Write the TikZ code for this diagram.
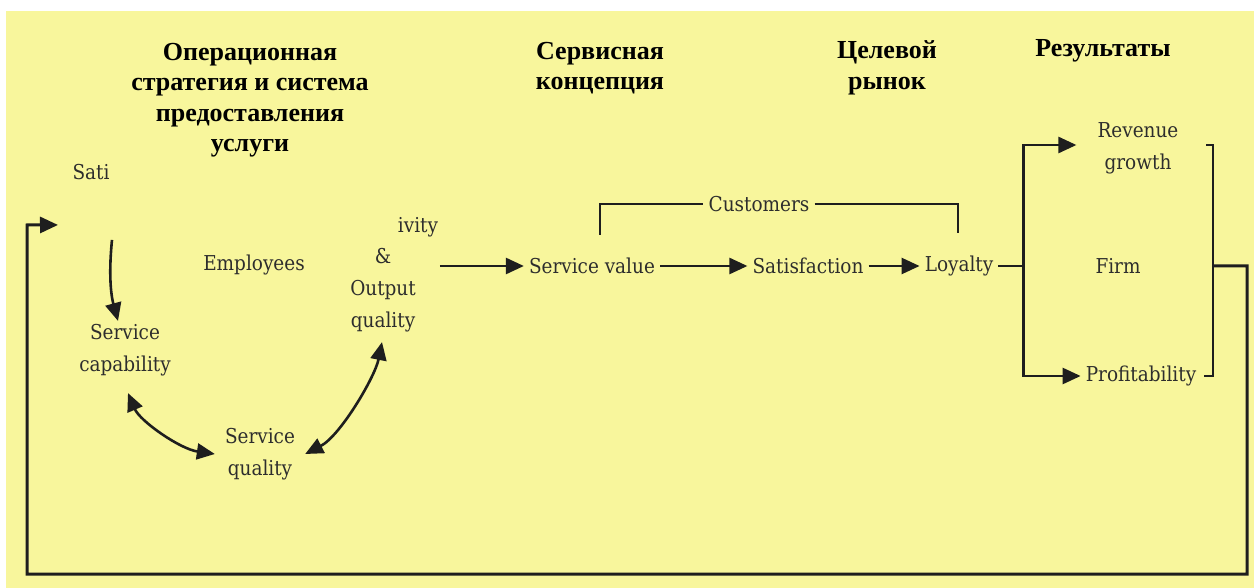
\documentclass[tikz,border=0pt]{standalone}
\usepackage{fontspec}
\setmainfont{DejaVu Serif Condensed}
\newfontfamily\headfont{Liberation Serif}
\usetikzlibrary{arrows.meta,calc}
\definecolor{paper}{RGB}{248,246,156}
\definecolor{ink}{RGB}{30,30,30}
\definecolor{txt}{RGB}{45,45,45}
\begin{document}
\begin{tikzpicture}[x=1pt,y=-1pt,
  lbl/.style={font=\fontsize{20.5}{32}\selectfont, text=txt, align=center, inner sep=5pt},
  head/.style={font=\headfont\bfseries\fontsize{26}{30.5}\selectfont, align=center, inner sep=0pt},
  head tip/.tip={Triangle[length=18pt,width=16pt]},
  tip/.style={-{head tip}},
  arr/.style={draw=ink, line width=2.6pt, tip},
  dbl/.style={draw=ink, line width=2.6pt, {head tip}-{head tip}},
  link/.style={draw=ink, line width=2.6pt},
  brk/.style={draw=ink, line width=2.2pt},
  loopline/.style={draw=ink, line width=3pt}
]
% page and panel
\useasboundingbox (0,0) rectangle (1254,588);
\fill[white] (0,0) rectangle (1254,588);
\fill[paper] (6,11) rectangle (1254,588);

% column headings
\node[head] (hops) at (250,100) {Операционная\\стратегия и система\\предоставления\\услуги};
\node[head] (hsvc) at (600,68) {Сервисная\\концепция};
\node[head] (hmkt) at (887,68) {Целевой\\рынок};
\node[head] (hres) at (1103,51) {Результаты};

% internal service loop
\node[lbl] (sati) at (91,172) {Sati};
\node[lbl] (emp) at (254,265) {Employees};
\node[lbl] (svccap) at (125,350) {Service\\capability};
\node[lbl] (svcq) at (260,454) {Service\\quality};
\node[lbl] (ivity) at (418,227) {ivity};
\node[lbl] (outq) at (383,290) {\&\\Output\\quality};

% customer chain
\node[lbl] (sv) at (592,266) {Service value};
\node[lbl] (sat) at (808,266) {Satisfaction};
\node[lbl] (loy) at (959,266) {Loyalty};
\node[lbl] (cust) at (759,204) {Customers};

% firm results
\node[lbl] (rev) at (1138,148) {Revenue\\growth};
\node[lbl] (firm) at (1118,266) {Firm};
\node[lbl] (prof) at (1141,376) {Profitability};

% arrows inside the loop
\draw[arr] ($(sati.south)+(21,55)$) .. controls ($(sati.south)+(17,95)$) and ($(svccap.north)+(-13,-20)$) .. ($(svccap.north)+(-7,2)$);
\draw[dbl] ($(svccap.south)+(3,12)$) .. controls ($(svccap.south)+(15,40)$) and ($(svcq.west)+(-40,-5)$) .. ($(svcq.west)+(-5,0)$);
\draw[dbl] ($(svcq.east)+(5,0)$) .. controls ($(svcq.east)+(40,-18)$) and ($(outq.south)+(-8,40)$) .. ($(outq.south)+(-1,5)$);

% chain arrows
\draw[arr] ($(outq.east |- sv.west)+(19,0)$) -- (sv.west);
\draw[arr] (sv) -- (sat);
\draw[arr] (sat) -- (loy);

% customers bracket
\draw[brk] ($(sv.north)+(8,-18)$) |- (cust.west);
\draw[brk] (cust.east) -| ($(loy.north)+(-1,-18)$);

% branch to results
\draw[link] (loy.east) -- ++(25,0) coordinate (br);
\draw[arr] (br) |- ($(rev.west)+(-16,-3)$);
\draw[arr] (br) |- (prof.west);

% firm bracket
\coordinate (bt) at ($(prof.east |- rev.west)+(12,-3)$);
\coordinate (bb) at ($(prof.east)+(12,0)$);
\draw[brk] ($(bt)+(-7,0)$) -- (bt) -- (bb) -- ($(bb)+(-9,0)$);

% feedback loop
\coordinate (back) at ($(sati.south)+(-33,40)$);
\draw[loopline, tip] (bt |- firm) -- (1247,266) -- (1247,574) -- (27,574) -- (27,225) -- (back);
\end{tikzpicture}
\end{document}
